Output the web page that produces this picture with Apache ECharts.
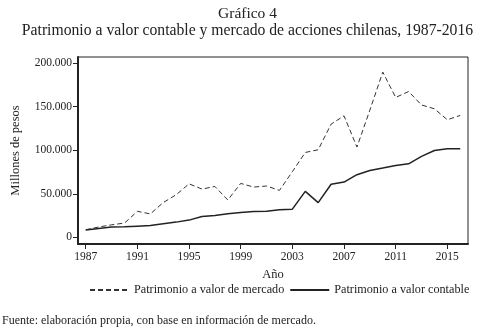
<!DOCTYPE html>
<html>
<head>
<meta charset="utf-8">
<script src="https://cdn.jsdelivr.net/npm/echarts@6/dist/echarts.min.js"></script>
<style>
html,body{margin:0;padding:0;background:#fff;}
#c{width:495px;height:334px;}
</style>
</head>
<body>
<div id="c"></div>
<script>
const years = [1987,1988,1989,1990,1991,1992,1993,1994,1995,1996,1997,1998,1999,2000,2001,2002,2003,2004,2005,2006,2007,2008,2009,2010,2011,2012,2013,2014,2015,2016];
const mercado = [8800,12000,14500,16500,30000,27000,40000,49000,61500,55500,58500,43000,62000,57800,59000,54000,75500,97500,100600,130000,139500,103700,146000,189700,160600,167400,152000,147600,135000,140000];
const contable = [8500,10300,11900,12200,13000,13800,15700,17600,19900,24000,25200,27200,28700,29800,30200,31800,32500,52800,40000,61000,63500,72000,76900,79600,82600,84500,93000,99800,101700,101700];
const xTicks = [1987,1991,1995,1999,2003,2007,2011,2015];
const yTicks = [0,50000,100000,150000,200000];
const seriesNames = ['Patrimonio a valor de mercado','Patrimonio a valor contable'];

const FONT = '"Liberation Serif", serif';
const chart = echarts.init(document.getElementById('c'), null, {renderer:'canvas'});
const fmt = v => v === 0 ? '0' : String(v).replace(/\B(?=(\d{3})+(?!\d))/g, '.');

chart.setOption({
  animation:false,
  backgroundColor:'#fff',
  textStyle:{fontFamily:FONT,color:'#222'},
  title:[
    {text:'Gráfico 4',left:'center',top:1,textStyle:{fontFamily:FONT,fontSize:15.5,fontWeight:'normal',color:'#222'}},
    {text:'Patrimonio a valor contable y mercado de acciones chilenas, 1987-2016',left:'center',top:18,textStyle:{fontFamily:FONT,fontSize:15.7,fontWeight:'normal',color:'#222'}},
    {text:'Fuente: elaboración propia, con base en información de mercado.',left:2,top:315,padding:0,textStyle:{fontFamily:FONT,fontSize:12,fontWeight:'normal',color:'#222'}}
  ],
  grid:{left:78,right:27,top:57,bottom:90,show:true,borderColor:'#222',borderWidth:1,backgroundColor:'transparent'},
  legend:{
    top:279,left:84,itemWidth:39,itemHeight:10,itemGap:5,
    itemStyle:{opacity:0,borderWidth:0},
    textStyle:{fontFamily:FONT,fontSize:12.2,color:'#222'},
    data:seriesNames
  },
  xAxis:{
    type:'value',min:1986.4,max:2016.6,
    name:'Año',nameLocation:'middle',nameGap:21,
    nameTextStyle:{fontFamily:FONT,fontSize:12.5,color:'#222'},
    axisLine:{show:true,onZero:false,lineStyle:{color:'#222',width:2}},
    axisTick:{show:true,length:5,lineStyle:{color:'#222'},customValues:xTicks},
    axisLabel:{customValues:xTicks,fontFamily:FONT,fontSize:11.5,color:'#222',margin:7,formatter:v=>String(v)},
    splitLine:{show:false}
  },
  yAxis:{
    type:'value',min:-7500,max:207000,
    name:'Millones de pesos',nameLocation:'middle',nameGap:56,nameRotate:90,
    nameTextStyle:{fontFamily:FONT,fontSize:12.5,color:'#222'},
    axisLine:{show:true,onZero:false,lineStyle:{color:'#222',width:2}},
    axisTick:{show:true,length:5,lineStyle:{color:'#222'},customValues:yTicks},
    axisLabel:{customValues:yTicks,fontFamily:FONT,fontSize:11.5,color:'#222',margin:6,formatter:fmt},
    splitLine:{show:false}
  },
  series:[
    {name:seriesNames[0],type:'line',symbol:'none',data:years.map((y,i)=>[y,mercado[i]]),
     lineStyle:{color:'#333',width:1,type:[5,3]},itemStyle:{color:'#333'}},
    {name:seriesNames[1],type:'line',symbol:'none',data:years.map((y,i)=>[y,contable[i]]),
     lineStyle:{color:'#222',width:1.5,type:'solid'},itemStyle:{color:'#222'}}
  ]
});
</script>
</body>
</html>
